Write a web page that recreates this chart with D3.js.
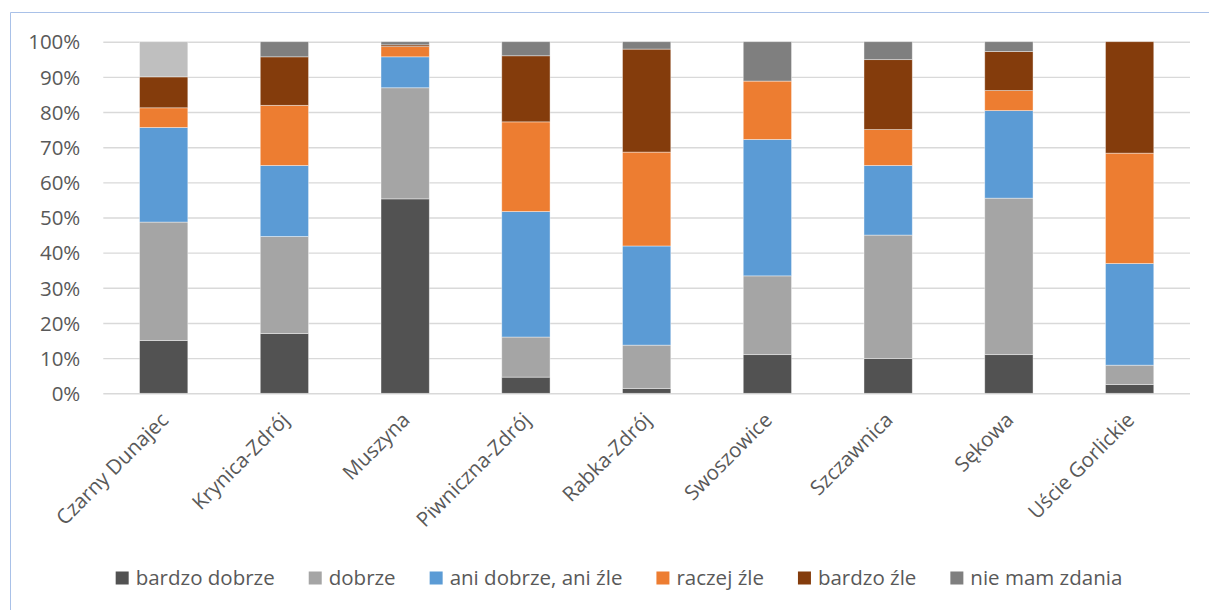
<!DOCTYPE html>
<html><head><meta charset="utf-8">
<script src="https://cdn.jsdelivr.net/npm/d3@7"></script>
<style>body{margin:0;background:#fff}svg{display:block}text{font-family:"Open Sans",sans-serif;fill:#595959}</style>
</head><body><div id="chart"></div>
<script>
const categories = ["Czarny Dunajec","Krynica-Zdrój","Muszyna","Piwniczna-Zdrój","Rabka-Zdrój","Swoszowice","Szczawnica","Sękowa","Uście Gorlickie"];
const seriesNames = ["bardzo dobrze","dobrze","ani dobrze, ani źle","raczej źle","bardzo źle","nie mam zdania"];
const bardzoDobrze = [15.0,17.0,55.3,4.6,1.4,11.0,9.9,11.0,2.5];
const dobrze       = [33.7,27.6,31.6,11.4,12.3,22.4,35.1,44.5,5.5];
const aniDobrze    = [26.9,20.2,8.8,35.7,28.2,38.8,19.8,24.9,28.9];
const raczejZle    = [5.6,17.1,2.9,25.5,26.7,16.6,10.2,5.7,31.4];
const bardzoZle    = [8.8,13.8,0.5,18.8,29.3,0.0,19.9,11.1,31.7];
const nieMamZdania = [10.0,4.3,0.9,4.0,2.1,11.2,5.1,2.8,0.0];
const yTicks = [0,10,20,30,40,50,60,70,80,90,100];

const seriesValues = [bardzoDobrze,dobrze,aniDobrze,raczejZle,bardzoZle,nieMamZdania];
const colors = ["#525252","#A5A5A5","#5B9BD5","#ED7D31","#843C0C","#7F7F7F"];
const W=1209,H=610;
const svg=d3.select("#chart").append("svg").attr("width",W).attr("height",H);
// chart border
svg.append("path").attr("d","M10.5,"+H+"V12.5H"+W).attr("fill","none").attr("stroke","#A9C1E8").attr("stroke-width",1);

const m={l:103.3,r:1190,t:41.7,b:393.3};
const x=d3.scaleBand().domain(categories).range([m.l,m.r]).paddingInner(0.6).paddingOuter(0.3);
const y=d3.scaleLinear().domain([0,100]).range([m.b,m.t]);

const rows=categories.map((c,i)=>{const o={cat:c};seriesNames.forEach((s,j)=>o[s]=seriesValues[j][i]);return o;});
const stack=d3.stack().keys(seriesNames)(rows);

const FS=20.5;
// gridlines
const yAxis=d3.axisLeft(y).tickValues(yTicks).tickFormat(d=>d+"%").tickSize(-(m.r-m.l)).tickPadding(23);
const ga=svg.append("g").attr("transform","translate("+m.l+",0)").call(yAxis);
ga.select(".domain").remove();
ga.selectAll(".tick line").attr("stroke","#D9D9D9").attr("stroke-width",1.4);
ga.selectAll(".tick text").attr("font-size",FS+"px").attr("fill","#595959").attr("dy","0.35em");

// bars
svg.append("g").selectAll("g").data(stack).join("g")
 .each(function(layer,j){
   d3.select(this).selectAll("rect").data(layer).join("rect")
    .attr("x",d=>x(d.data.cat))
    .attr("width",x.bandwidth())
    .attr("y",d=>y(d[1]))
    .attr("height",d=>Math.max(0,y(d[0])-y(d[1])))
    .attr("fill",(d,i)=>(j===5&&i===0)?"#BFBFBF":colors[j])
    .attr("stroke","#ffffff").attr("stroke-opacity",0.5).attr("stroke-width",0.8);
 });

// x labels
const xAxis=d3.axisBottom(x).tickSize(0).tickPadding(0);
const gx=svg.append("g").attr("transform","translate(0,"+m.b+")").call(xAxis);
gx.select(".domain").remove();
gx.selectAll(".tick text").attr("font-size",FS+"px").attr("fill","#595959")
 .attr("text-anchor","end").attr("dy",0).attr("y",0)
 .attr("transform","translate(6,28) rotate(-45)");

// legend
const lg=svg.append("g");
const box=13, gapTxt=7, gapItem=34;
let widths=[];
const tmp=lg.append("text").attr("font-size",FS+"px");
seriesNames.forEach(s=>{tmp.text(s);widths.push(tmp.node().getComputedTextLength());});
tmp.remove();
const total=d3.sum(widths)+seriesNames.length*(box+gapTxt)+(seriesNames.length-1)*gapItem;
let cx=619-total/2;
const ly=578;
seriesNames.forEach((s,j)=>{
  lg.append("rect").attr("x",cx).attr("y",ly-box/2).attr("width",box).attr("height",box).attr("fill",colors[j]);
  lg.append("text").attr("x",cx+box+gapTxt).attr("y",ly).attr("dy","0.35em").attr("font-size",FS+"px").text(s);
  cx+=box+gapTxt+widths[j]+gapItem;
});
</script></body></html>
